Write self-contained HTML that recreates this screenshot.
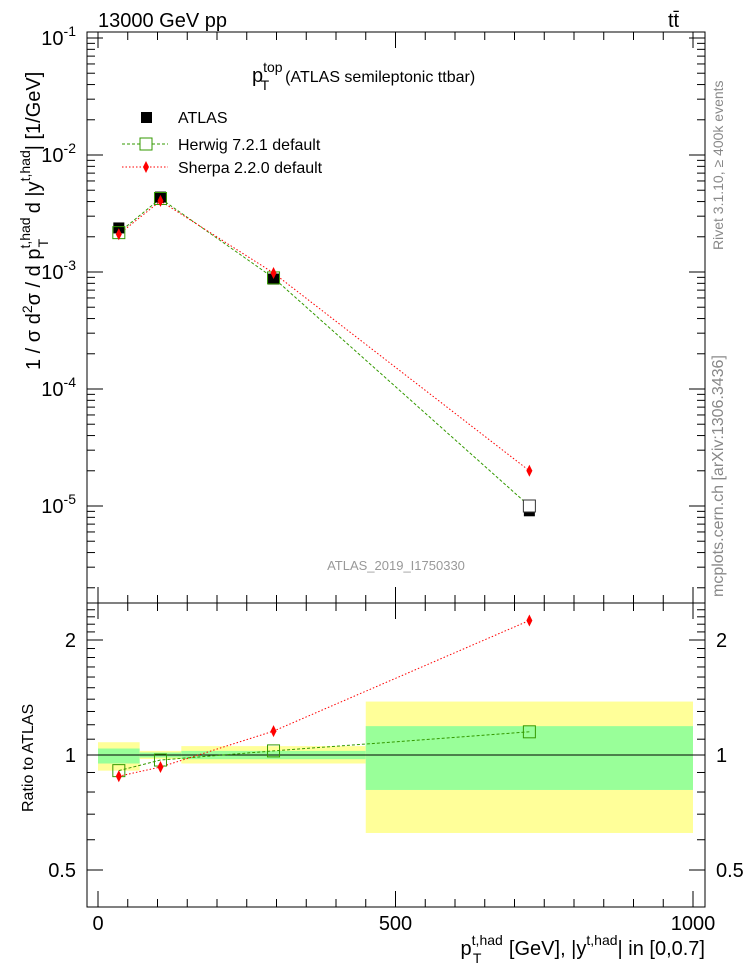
<!DOCTYPE html>
<html><head><meta charset="utf-8"><style>
body{margin:0;background:#fff}
svg{display:block;font-family:"Liberation Sans",sans-serif}
</style></head><body>
<svg id="c" width="746" height="972" viewBox="0 0 746 972">
<g id="bands"></g><g id="axes"></g><g id="marks"></g>
<text x="98" y="27" font-size="20">13000 GeV pp</text>
<text x="668" y="27" font-size="20">tt̄</text>
<text x="252" y="82" font-size="20">p<tspan dy="-10" font-size="14">top</tspan><tspan dx="-22" dy="18" font-size="14">T</tspan><tspan dx="16" dy="-8" font-size="16">(ATLAS semileptonic ttbar)</tspan></text>
<text x="396" y="570" font-size="13" fill="#999" text-anchor="middle">ATLAS_2019_I1750330</text>
<text transform="translate(723,250) rotate(-90)" font-size="14" fill="#888">Rivet 3.1.10, ≥ 400k events</text>
<text transform="translate(723,597) rotate(-90)" font-size="16" fill="#888">mcplots.cern.ch [arXiv:1306.3436]</text>
<text transform="translate(40,370) rotate(-90)" font-size="20">1 / σ d<tspan dy="-8" font-size="14">2</tspan><tspan dy="8">σ / d p</tspan><tspan dy="-10" font-size="14">t,had</tspan><tspan dx="-30" dy="18" font-size="14">T</tspan><tspan dx="20" dy="-8"> d |y</tspan><tspan dy="-10" font-size="14">t,had</tspan><tspan dy="10">| [1/GeV]</tspan></text>
<text transform="translate(33,812) rotate(-90)" font-size="16">Ratio to ATLAS</text>
<text x="705" y="955" font-size="20" text-anchor="end">p<tspan dy="-10" font-size="14">t,had</tspan><tspan dx="-30" dy="18" font-size="14">T</tspan><tspan dx="22" dy="-8"> [GeV], |y</tspan><tspan dy="-10" font-size="14">t,had</tspan><tspan dy="10">| in [0,0.7]</tspan></text>
<g>
<rect x="141" y="112" width="11" height="11" fill="#000"/>
<text x="178" y="123" font-size="16">ATLAS</text>
<line x1="122" y1="144" x2="168" y2="144" stroke="#339900" stroke-dasharray="3,2"/>
<rect x="140" y="138" width="12" height="12" fill="#fff" stroke="#339900"/>
<text x="178" y="150" font-size="16">Herwig 7.2.1 default</text>
<line x1="122" y1="167" x2="168" y2="167" stroke="#f00" stroke-dasharray="1.5,2"/>
<path d="M146,161 L149,167 L146,173 L143,167Z" fill="#f00"/>
<text x="178" y="173" font-size="16">Sherpa 2.2.0 default</text>
</g>
</svg>
<script>
const binEdges=[0,70,140,450,1000];
const xCenters=[35,105,295,725];
const atlas=[2.38e-3,4.37e-3,8.7e-4,9.1e-6];
const herwig=[2.17e-3,4.25e-3,8.9e-4,1.0e-5];
const sherpa=[2.1e-3,4.05e-3,9.8e-4,2.0e-5];
const herwigRatio=[0.91,0.97,1.025,1.15];
const sherpaRatio=[0.88,0.93,1.155,2.25];
const statHi=[1.04,1.015,1.025,1.19];
const statLo=[0.95,0.985,0.975,0.81];
const totHi=[1.08,1.025,1.055,1.38];
const totLo=[0.91,0.976,0.95,0.625];
const xTicks=[0,500,1000];
const yTickExp=[-1,-2,-3,-4,-5];
const rTicks=[0.5,1,2];

const NS="http://www.w3.org/2000/svg";
const L=87,R=705,T=32,M=603,B=907;
const X=v=>98+v*0.595;
const Y=v=>155-(Math.log10(v)+2)*117;
const YR=v=>755-Math.log10(v)*382;
function mk(p,t,a){const e=document.createElementNS(NS,t);for(const k in a)e.setAttribute(k,a[k]);document.getElementById(p).appendChild(e);return e;}

for(let i=0;i<4;i++){
 let e=mk('bands','rect',{x:X(binEdges[i]),y:YR(totHi[i]),width:X(binEdges[i+1])-X(binEdges[i]),height:YR(totLo[i])-YR(totHi[i]),fill:'#ffff99'});
 
 
 e=mk('bands','rect',{x:X(binEdges[i]),y:YR(statHi[i]),width:X(binEdges[i+1])-X(binEdges[i]),height:YR(statLo[i])-YR(statHi[i]),fill:'#99ff99'});
 
 
}
let f=mk('axes','rect',{x:L,y:T,width:R-L,height:M-T,fill:'none',stroke:'#000'});


f=mk('axes','rect',{x:L,y:M,width:R-L,height:B-M,fill:'none',stroke:'#000'});


f=mk('axes','line',{x1:L,x2:R,y1:YR(1),y2:YR(1),stroke:'#000'});


for(let v=0;v<=1000;v+=50){
 const big=v%500==0,len=big?16:8;
 for(const [y0,d] of [[T,1],[M,-1],[M,1],[B,-1]]) mk('axes','line',{x1:X(v),x2:X(v),y1:y0,y2:y0+d*len,stroke:'#000'});
}
xTicks.forEach(v=>{const t=mk('axes','text',{x:X(v),y:930,'font-size':20,'text-anchor':'middle'});t.textContent=v;
 
 });
for(let e=-6;e<=-1;e++){for(let m=1;m<10;m++){const v=m*Math.pow(10,e),y=Y(v);if(y<T||y>M)continue;const len=m==1?16:8;
 mk('axes','line',{x1:L,x2:L+len,y1:y,y2:y,stroke:'#000'});mk('axes','line',{x1:R,x2:R-len,y1:y,y2:y,stroke:'#000'});}}
yTickExp.forEach(e=>{const t=mk('axes','text',{x:76,y:Y(Math.pow(10,e))+7,'font-size':20,'text-anchor':'end'});
 t.innerHTML='10<tspan dy="-9" font-size="14">'+e+'</tspan>';
 
 });
for(let k=4;k<=25;k++){const v=k/10,y=YR(v);if(y<M||y>B)continue;const big=(k==5||k==10||k==20);const len=big?16:8;
 mk('axes','line',{x1:L,x2:L+len,y1:y,y2:y,stroke:'#000'});mk('axes','line',{x1:R,x2:R-len,y1:y,y2:y,stroke:'#000'});}
rTicks.forEach(v=>{for(const [x,a] of [[76,'end'],[716,'start']]){const t=mk('axes','text',{x:x,y:YR(v)+7,'font-size':20,'text-anchor':a});t.textContent=v;
 
 }});
function line(arr,fy,col,dash,name){const p=mk('marks','polyline',{points:arr.map((v,i)=>X(xCenters[i])+','+fy(v)).join(' '),fill:'none',stroke:col,'stroke-dasharray':dash});
 
 }
line(herwig,Y,'#339900','3,2','herwig-line');
line(sherpa,Y,'#f00','1.5,2','sherpa-line');
line(herwigRatio,YR,'#339900','3,2','herwig-ratio-line');
line(sherpaRatio,YR,'#f00','1.5,2','sherpa-ratio-line');
atlas.forEach((v,i)=>{const r=mk('marks','rect',{x:X(xCenters[i])-5.5,y:Y(v)-5.5,width:11,height:11,fill:'#000'});
 
 });
function sq(arr,fy,name){arr.forEach((v,i)=>{const r=mk('marks','rect',{x:X(xCenters[i])-6,y:fy(v)-6,width:12,height:12,fill:i==3&&fy===Y?'#fff':'none',stroke:i==3&&fy===Y?'#333':'#339900'});
 
 });}
function dm(arr,fy,name){arr.forEach((v,i)=>{const x=X(xCenters[i]),y=fy(v);const d=mk('marks','path',{d:`M${x},${y-6}L${x+3},${y}L${x},${y+6}L${x-3},${y}Z`,fill:'#f00'});
 
 });}
sq(herwig,Y,'herwig-point');dm(sherpa,Y,'sherpa-point');
sq(herwigRatio,YR,'herwig-ratio-point');dm(sherpaRatio,YR,'sherpa-ratio-point');
</script>
</body></html>
